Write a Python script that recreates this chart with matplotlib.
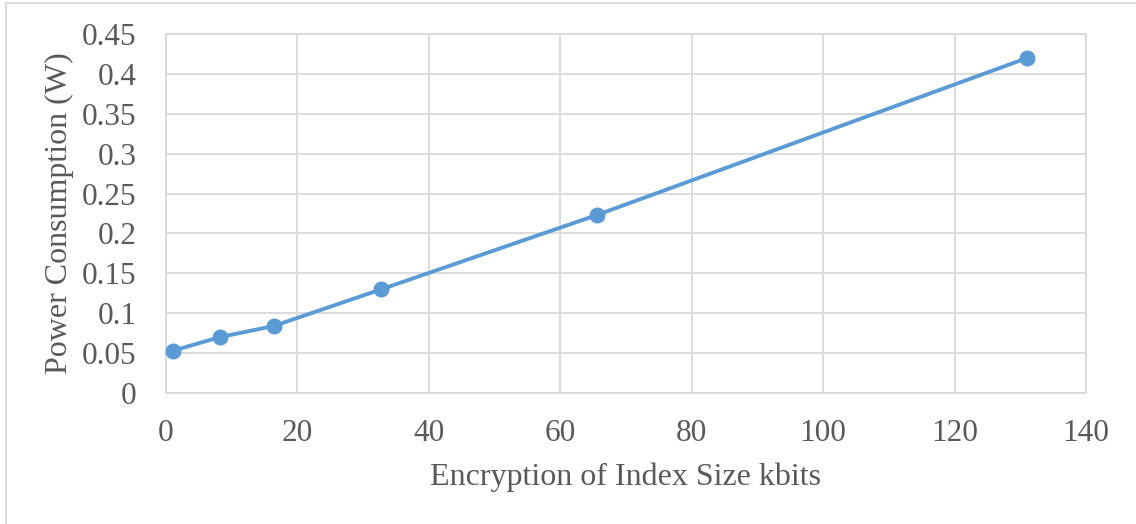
import matplotlib.pyplot as plt
from matplotlib.lines import Line2D

# index size (kbits) and measured power draw (W)
index_kbits = [1.024, 8.192, 16.384, 32.768, 65.536, 131.072]
power_w = [0.053, 0.070, 0.084, 0.130, 0.223, 0.420]

x_ticks = [0, 20, 40, 60, 80, 100, 120, 140]
y_ticks = [0, 0.05, 0.1, 0.15, 0.2, 0.25, 0.3, 0.35, 0.4, 0.45]
y_labels = ['0', '0.05', '0.1', '0.15', '0.2', '0.25', '0.3', '0.35', '0.4', '0.45']

plt.rcParams['font.family'] = ['Liberation Serif', 'DejaVu Serif']
text_col = '#595959'
grid_col = '#D9D9D9'

fig = plt.figure(figsize=(11.36, 5.24), dpi=100)
ax = fig.add_axes([166 / 1136, 1 - 393 / 524, 920 / 1136, 359 / 524])

ax.plot(index_kbits, power_w, color='#5B9BD5', linewidth=2.8,
        marker='o', markersize=10.5, zorder=3, clip_on=False)

ax.set_xlim(0, 140)
ax.set_ylim(0, 0.45)
ax.set_xticks(x_ticks)
ax.set_yticks(y_ticks)
ax.set_yticklabels(y_labels)
ax.grid(True, color=grid_col, linewidth=1.3)
ax.set_axisbelow(True)
for s in ax.spines.values():
    s.set_color(grid_col)
    s.set_linewidth(1.3)
ax.tick_params(length=0, labelsize=22.5, labelcolor=text_col)
ax.tick_params(axis='y', pad=21)
ax.tick_params(axis='x', pad=19)

ax.set_xlabel('Encryption of Index Size kbits', fontsize=23, color=text_col, labelpad=10)
ax.set_ylabel('Power Consumption (W)', fontsize=23, color=text_col, labelpad=6)

# chart frame: only the left and top edges show
x0, y1 = 5.5 / 1136, 1 - 2.5 / 524
fig.add_artist(Line2D([x0, x0], [0, y1], transform=fig.transFigure,
                      color=grid_col, linewidth=1.3))
fig.add_artist(Line2D([x0, 1], [y1, y1], transform=fig.transFigure,
                      color=grid_col, linewidth=1.3))

fig.savefig('out.png', dpi=100)
